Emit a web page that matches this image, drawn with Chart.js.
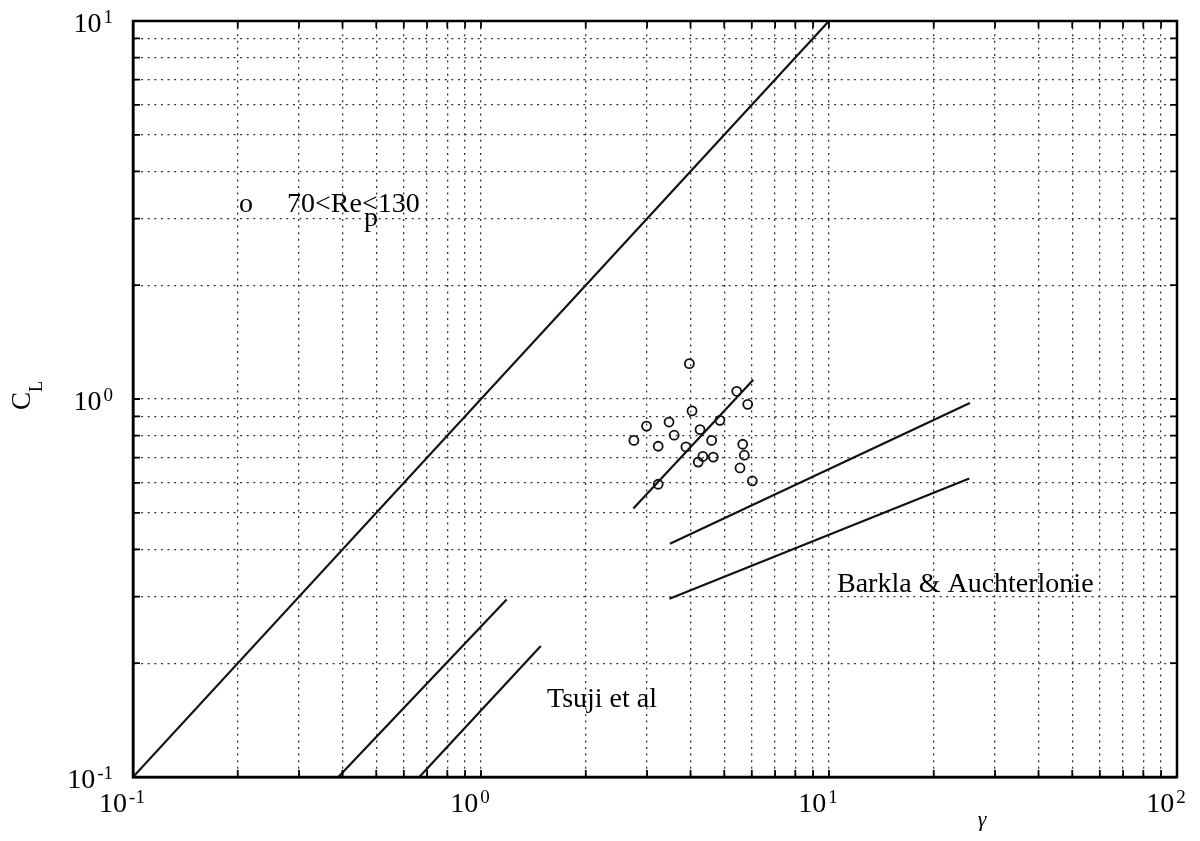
<!DOCTYPE html>
<html>
<head>
<meta charset="utf-8">
<title>C_L vs gamma</title>
<script src="https://cdn.jsdelivr.net/npm/chart.js@4.4.1/dist/chart.umd.min.js"></script>
<style>
  body { margin: 0; background: #fff; }
  canvas { display: block; }
</style>
</head>
<body>
<canvas id="clChart" width="1200" height="841"></canvas>
<script>
// measured points (70 < Re_p < 130)
const gammaPts = [3.97, 5.43, 5.84, 4.04, 4.86, 3.47, 2.99, 4.26, 3.59, 2.75, 4.60,
  3.23, 3.88, 5.65, 5.71, 4.34, 4.65, 4.21, 5.55, 6.02, 3.23];
const clPts = [1.24, 1.048, 0.968, 0.930, 0.878, 0.869, 0.848, 0.830, 0.802, 0.777, 0.777,
  0.750, 0.747, 0.759, 0.710, 0.705, 0.702, 0.681, 0.657, 0.607, 0.595];

// straight lines (end points)
const diagX = [0.1, 10];
const diagY = [0.1, 10];
const fitX = [2.74, 6.06];
const fitY = [0.513, 1.125];
const barklaUpperX = [3.49, 25.4];
const barklaUpperY = [0.414, 0.976];
const barklaLowerX = [3.48, 25.3];
const barklaLowerY = [0.296, 0.616];
const tsujiUpperX = [0.389, 1.185];
const tsujiUpperY = [0.1, 0.295];
const tsujiLowerX = [0.665, 1.485];
const tsujiLowerY = [0.1, 0.222];

// axes
const xDecades = [-1, 0, 1, 2];
const yDecades = [-1, 0, 1];
const xGridTicks = [0.1, 0.2, 0.3, 0.4, 0.5, 0.6, 0.7, 0.8, 0.9, 1, 2, 3, 4, 5, 6, 7, 8, 9,
  10, 20, 30, 40, 50, 60, 70, 80, 90, 100];
const yGridTicks = [0.1, 0.2, 0.3, 0.4, 0.5, 0.6, 0.7, 0.8, 0.9, 1, 2, 3, 4, 5, 6, 7, 8, 9, 10];

const SERIF = "'Liberation Serif', 'DejaVu Serif', serif";

const toXY = (xs, ys) => xs.map((x, i) => ({ x: x, y: ys[i] }));

const lineSet = (xs, ys) => ({
  data: toXY(xs, ys),
  showLine: true,
  borderColor: "#111",
  borderWidth: 2.2,
  pointRadius: 0,
  fill: false,
});

// frame, inward ticks, decade labels and text notes
const paperPlugin = {
  id: "paper",
  afterDraw(chart) {
    const { ctx, chartArea: a, scales } = chart;
    const sx = scales.x, sy = scales.y;
    ctx.save();
    ctx.strokeStyle = "#000";
    ctx.lineWidth = 1.8;
    ctx.beginPath();
    xGridTicks.forEach((v) => {
      const px = sx.getPixelForValue(v);
      ctx.moveTo(px, a.bottom); ctx.lineTo(px, a.bottom - 7);
      ctx.moveTo(px, a.top); ctx.lineTo(px, a.top + 7);
    });
    yGridTicks.forEach((v) => {
      const py = sy.getPixelForValue(v);
      ctx.moveTo(a.left, py); ctx.lineTo(a.left + 7, py);
      ctx.moveTo(a.right, py); ctx.lineTo(a.right - 7, py);
    });
    ctx.stroke();

    ctx.lineWidth = 2.5;
    ctx.strokeRect(a.left, a.top, a.right - a.left, a.bottom - a.top);

    ctx.fillStyle = "#000";
    ctx.textBaseline = "alphabetic";
    const base = "28px " + SERIF;
    const sup = "19px " + SERIF;

    const drawPow = (e, right, baseline) => {
      const expTxt = String(e);
      ctx.font = sup;
      const we = ctx.measureText(expTxt).width;
      ctx.font = base;
      const wb = ctx.measureText("10").width;
      ctx.textAlign = "left";
      ctx.fillText("10", right - we - wb - 2, baseline);
      ctx.font = sup;
      ctx.fillText(expTxt, right - we, baseline - 9);
    };

    // x labels
    xDecades.forEach((e) => {
      const px = sx.getPixelForValue(Math.pow(10, e));
      ctx.font = sup;
      const we = ctx.measureText(String(e)).width;
      ctx.font = base;
      const wb = ctx.measureText("10").width;
      const total = wb + 2 + we;
      drawPow(e, px - 11 + total / 2, a.bottom + 35);
    });
    // y labels
    yDecades.forEach((e) => {
      const py = sy.getPixelForValue(Math.pow(10, e));
      drawPow(e, a.left - 20, py + 11);
    });

    // axis titles
    ctx.save();
    ctx.translate(30, 410);
    ctx.rotate(-Math.PI / 2);
    ctx.textAlign = "left";
    ctx.font = "27px " + SERIF;
    ctx.fillText("C", 0, 0);
    const wc = ctx.measureText("C").width;
    ctx.font = "18px " + SERIF;
    ctx.fillText("L", wc, 12);
    ctx.restore();

    ctx.font = "italic 22px " + SERIF;
    ctx.textAlign = "center";
    ctx.fillText("\u03b3", 982, 826);

    // notes
    ctx.textAlign = "left";
    ctx.font = base;
    ctx.fillText("o", 239, 212);
    ctx.fillText("70<Re<130", 287, 212);
    ctx.fillText("p", 364, 226);
    ctx.fillText("Tsuji et al", 547, 707);
    ctx.fillText("Barkla & Auchterlonie", 837, 592);
    ctx.restore();
  },
};

const gridOpts = {
  color: "#333",
  lineWidth: 1.3,
  drawTicks: false,
};

new Chart(document.getElementById("clChart").getContext("2d"), {
  type: "scatter",
  data: {
    datasets: [
      {
        data: toXY(gammaPts, clPts),
        pointStyle: "circle",
        pointRadius: 4.5,
        pointBorderWidth: 1.8,
        borderColor: "#111",
        backgroundColor: "rgba(0,0,0,0)",
      },
      lineSet(diagX, diagY),
      lineSet(fitX, fitY),
      lineSet(barklaUpperX, barklaUpperY),
      lineSet(barklaLowerX, barklaLowerY),
      lineSet(tsujiUpperX, tsujiUpperY),
      lineSet(tsujiLowerX, tsujiLowerY),
    ],
  },
  options: {
    responsive: false,
    animation: false,
    layout: { padding: { top: 21, right: 23, left: 0, bottom: 0 } },
    plugins: {
      legend: { display: false },
      tooltip: { enabled: false },
    },
    scales: {
      x: {
        type: "logarithmic",
        min: 0.1,
        max: 100,
        afterBuildTicks: (s) => { s.ticks = xGridTicks.map((v) => ({ value: v })); },
        afterFit: (s) => { s.height = 64; },
        ticks: { display: false, autoSkip: false },
        grid: gridOpts,
        border: { display: true, color: "#000", width: 2.5, dash: [2, 4.6] },
      },
      y: {
        type: "logarithmic",
        min: 0.1,
        max: 10,
        afterBuildTicks: (s) => { s.ticks = yGridTicks.map((v) => ({ value: v })); },
        afterFit: (s) => { s.width = 133; },
        ticks: { display: false, autoSkip: false },
        grid: gridOpts,
        border: { display: true, color: "#000", width: 2.5, dash: [2, 4.6] },
      },
    },
  },
  plugins: [paperPlugin],
});
</script>
</body>
</html>
